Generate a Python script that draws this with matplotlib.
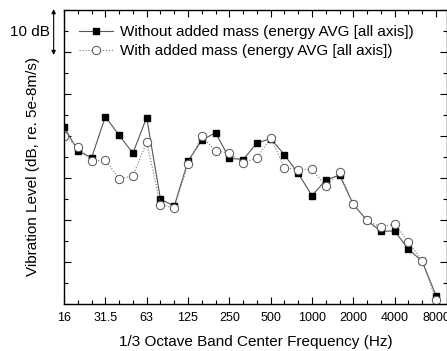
import matplotlib.pyplot as plt
import numpy as np

plt.rcParams['font.family'] = ['Liberation Sans', 'DejaVu Sans']

# 1/3 octave bands, 16 Hz .. 8000 Hz (index positions on the x axis)
bands = [16, 20, 25, 31.5, 40, 50, 63, 80, 100, 125, 160, 200, 250, 315, 400,
         500, 630, 800, 1000, 1250, 1600, 2000, 2500, 3150, 4000, 5000, 6300, 8000]
tick_labels = ['16', '31.5', '63', '125', '250', '500', '1000', '2000', '4000', '8000']

without_mass = [42.2, 36.5, 34.8, 44.6, 40.2, 35.9, 44.4, 25.0, 23.3, 34.0,
                39.0, 40.8, 34.7, 34.4, 38.3, 39.4, 35.5, 31.1, 25.8, 29.5,
                30.7, 23.7, 19.9, 17.3, 17.4, 13.0, 10.2, 2.0]
with_mass = [40.0, 37.5, 34.0, 34.3, 29.8, 30.5, 38.5, 23.6, 22.9, 33.3,
             40.0, 36.4, 36.0, 33.6, 34.8, 39.6, 32.5, 32.0, 32.1, 28.1,
             31.4, 23.7, 19.9, 18.3, 19.1, 14.8, 10.2, 1.0]

x = np.arange(len(bands))

fig = plt.figure(figsize=(4.47, 3.51), dpi=100)
ax = fig.add_axes([64 / 447, 47 / 351, 383 / 447, 294 / 351])

ax.plot(x, without_mass, '-', color='#555555', lw=0.8, marker='s', ms=5,
        mfc='black', mec='black', label='Without added mass (energy AVG [all axis])')
ax.plot(x, with_mass, ':', color='#777777', lw=0.8, marker='o', ms=6,
        mfc='white', mec='#555555', mew=0.7, label='With added mass (energy AVG [all axis])')

ax.set_xlim(0, 27.8)
ax.set_ylim(0, 70)
ax.set_xticks(x[::3])
ax.set_xticklabels(tick_labels, fontsize=9)
ax.set_xticks(x, minor=True)
ax.set_yticks(np.arange(0, 71, 10))
ax.set_yticks(np.arange(0, 71, 5), minor=True)
ax.set_yticklabels([])
ax.tick_params(which='both', direction='in', top=True, right=True)
ax.tick_params(which='major', length=5, width=0.8, pad=6)
ax.tick_params(which='minor', length=3, width=0.8)
for s in ax.spines.values():
    s.set_linewidth(1.0)

ax.set_xlabel('1/3 Octave Band Center Frequency (Hz)', fontsize=11, labelpad=8)
ax.set_ylabel('Vibration Level (dB, re. 5e-8m/s)', fontsize=11)
ax.yaxis.set_label_coords(-0.062, 0.466)

ax.legend(loc='center left', frameon=False, fontsize=11, handlelength=2.2,
          borderaxespad=0, borderpad=0, labelspacing=0.35, handletextpad=0.45,
          bbox_to_anchor=(0.04, 0.892))

# 10 dB scale arrow outside the axes
ax.annotate('', xy=(-0.027, 70.2), xytext=(-0.027, 59.3),
            xycoords=('axes fraction', 'data'), textcoords=('axes fraction', 'data'),
            arrowprops=dict(arrowstyle='<|-|>', color='black', lw=0.8,
                            mutation_scale=6, shrinkA=0, shrinkB=0),
            annotation_clip=False)
ax.text(-0.037, 64.8, '10 dB', transform=ax.get_yaxis_transform(), ha='right',
        va='center', fontsize=11, clip_on=False)

fig.savefig('out.png', dpi=100)
